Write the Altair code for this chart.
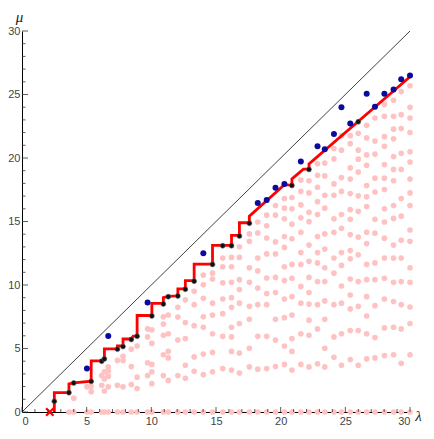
import altair as alt
import pandas as pd

W, H = 388, 381

# ---- data ----
pink_x = [3.63, 4.0, 5.02, 5.35, 6.16, 6.37, 6.67, 7.38, 7.81, 8.45, 8.9, 9.71, 10.04,
          10.93, 11.31, 12.05, 12.63, 13.31, 14.02, 14.73, 15.52, 16.2, 16.81, 17.58,
          18.23, 18.92, 19.6, 20.29, 20.87, 21.56, 22.19, 22.85, 23.41, 24.12, 24.7,
          25.38, 26.0, 26.65, 27.29, 28.02, 28.73, 29.32, 30.0]
pink_mu = [
    [0],
    [1.09, 0],
    [1.98, 0],
    [2.03, 1.6, 0],
    [2.87, 2.1, 0],
    [3.17, 2.6, 1.65, 0],
    [3.55, 3.25, 2.82, 1.98, 0],
    [4.06, 2.1, 0],
    [4.39, 4.06, 1.98, 0],
    [4.95, 3.58, 2.16, 0],
    [5.2, 2.74, 1.85, 0],
    [6.54, 5.91, 3.88, 2.87, 0],
    [6.47, 5.40, 3.75, 3.17, 2.23, 0],
    [7.5, 6.92, 6.04, 4.51, 2.87, 0],
    [7.63, 6.16, 4.77, 4.26, 2.49, 0],
    [8.24, 7.48, 5.66, 2.87, 0],
    [8.83, 7.05, 5.78, 3.68, 2.66, 0],
    [9.51, 8.45, 6.8, 4.34, 3.2, 0],
    [10.78, 10.02, 8.95, 7.5, 6.67, 4.56, 2.94, 0],
    [10.93, 10.47, 8.57, 7.63, 6.16, 4.69, 3.17, 0],
    [12.12, 11.44, 10.17, 8.9, 7.74, 5.96, 3.42, 0],
    [12.17, 11.44, 10.22, 9.0, 8.24, 6.67, 5.91, 4.77, 3.3, 0],
    [13.01, 12.17, 10.42, 9.64, 8.57, 6.97, 4.64, 3.07, 0],
    [14.02, 13.44, 11.36, 10.22, 8.32, 7.3, 5.02, 3.55, 0],
    [14.96, 14.1, 12.12, 11.11, 9.76, 8.45, 5.96, 3.37, 0],
    [15.5, 14.66, 13.7, 12.45, 10.55, 9.33, 8.45, 5.96, 3.42, 0],
    [16.26, 15.5, 13.39, 12.45, 10.6, 9.41, 7.3, 5.66, 3.58, 0],
    [16.81, 16.05, 15.22, 13.82, 12.96, 11.44, 10.35, 8.9, 7.43, 5.2, 3.75, 0],
    [16.89, 16.0, 14.79, 13.64, 11.62, 10.53, 9.08, 7.63, 5.78, 4.77, 3.3, 0],
    [18.26, 17.37, 16.31, 15.29, 14.15, 12.55, 11.62, 9.89, 8.57, 6.16, 3.75, 0],
    [18.21, 17.25, 15.72, 14.99, 13.14, 11.87, 10.6, 9.41, 8.5, 7.23, 6.04, 3.55, 0],
    [19.55, 18.64, 17.7, 16.56, 15.55, 13.82, 12.55, 11.74, 10.27, 8.45, 6.54, 3.8, 0],
    [19.6, 18.59, 17.07, 16.05, 14.02, 12.83, 11.36, 10.27, 8.75, 7.3, 5.02, 3.55, 0],
    [20.75, 19.93, 17.96, 17.07, 15.22, 14.15, 12.12, 10.93, 8.45, 5.91, 4.31, 0],
    [21.76, 20.62, 18.46, 17.37, 15.55, 14.46, 12.55, 11.54, 9.92, 8.57, 6.16, 3.68, 0],
    [21.76, 21.13, 19.22, 18.34, 17.2, 15.93, 15.17, 13.97, 12.71, 12.07, 10.47, 9.21, 8.12, 6.42, 4.13, 0],
    [21.94, 20.62, 19.91, 18.89, 17.02, 15.8, 13.77, 12.38, 10.27, 8.32, 6.42, 3.68, 0],
    [22.57, 21.58, 20.24, 19.43, 17.83, 16.94, 16.18, 14.15, 13.26, 11.62, 10.42, 9.08, 7.56, 6.16, 4.18, 0],
    [23.15, 21.33, 20.31, 18.41, 17.32, 15.17, 14.08, 11.74, 10.42, 8.37, 5.86, 4.26, 0],
    [24.22, 23.28, 21.68, 20.92, 19.48, 18.41, 17.52, 16.0, 14.96, 13.69, 12.12, 10.53, 8.9, 6.62, 4.44, 0],
    [24.55, 23.28, 22.27, 21.51, 20.11, 19.1, 18.21, 16.26, 15.24, 13.14, 12.12, 10.22, 8.7, 6.67, 4.51, 0],
    [25.23, 23.41, 22.32, 20.37, 19.1, 16.81, 15.42, 13.52, 12.12, 10.27, 8.45, 6.54, 3.83, 0],
    [25.69, 23.99, 23.15, 22.01, 20.49, 19.68, 18.34, 17.25, 16.26, 14.33, 13.44, 11.36, 10.22, 8.27, 6.97, 4.51, 0],
]

black_x = [2.5, 3.63, 4.0, 5.35, 6.16, 6.37, 7.38, 7.81, 8.45, 8.9, 10.04, 10.93, 11.31,
           12.05, 12.63, 13.31, 14.73, 15.52, 16.2, 16.81, 17.58, 20.87, 22.19, 26.0]
black_mu = [0.84, 1.52, 2.28, 2.41, 4.0, 4.18, 4.95, 5.15, 5.71, 5.96, 7.56, 8.5, 9.08,
            9.13, 9.66, 10.3, 11.62, 13.09, 13.09, 13.85, 14.86, 17.83, 19.1, 22.85]

blue_x = [5.02, 6.67, 9.71, 14.02, 18.23, 18.92, 19.6, 20.29, 21.56, 22.85, 23.41, 24.12,
          24.7, 25.38, 26.65, 27.29, 28.02, 28.73, 29.32, 30.0]
blue_mu = [3.42, 5.98, 8.62, 12.5, 16.46, 16.69, 17.65, 17.96, 19.73, 20.92, 20.69, 21.89,
           23.99, 22.72, 25.06, 24.04, 25.06, 25.39, 26.2, 26.5]

line_x = [2.5, 2.5, 3.63, 3.63, 4.0, 5.35, 5.35, 6.16, 6.37, 6.37, 7.38, 7.38, 7.81,
          7.81, 8.45, 8.6, 8.9, 8.9, 10.04, 10.04, 10.93, 10.93, 11.31, 12.05, 12.05,
          12.63, 12.63, 13.31, 13.31, 14.73, 14.73, 16.2, 16.2, 16.81, 16.81, 17.58,
          17.58, 20.29, 20.87, 20.87, 21.76, 22.19, 22.19, 30.0]
line_mu = [0, 1.52, 1.52, 2.22, 2.3, 2.42, 4.02, 4.02, 4.2, 4.97, 4.97, 5.2, 5.2,
           5.75, 5.75, 5.98, 5.98, 7.6, 7.6, 8.55, 8.55, 9.0, 9.1, 9.15, 9.7,
           9.7, 10.35, 10.35, 11.65, 11.65, 13.12, 13.12, 13.9, 13.9, 14.9, 14.9,
           15.42, 17.9, 17.85, 18.35, 19.12, 19.12, 19.53, 26.4]

cross_x = [2.15]
cross_mu = [0.0]

diag_x = [0, 30]
diag_mu = [0, 30]

major_ticks = [0, 5, 10, 15, 20, 25, 30]
minor_ticks = [i for i in range(31) if i % 5 != 0]

# ---- tables ----
pink_df = pd.DataFrame([{"x": x, "mu": m} for x, ms in zip(pink_x, pink_mu) for m in ms])
black_df = pd.DataFrame({"x": black_x, "mu": black_mu})
blue_df = pd.DataFrame({"x": blue_x, "mu": blue_mu})
line_df = pd.DataFrame({"x": line_x, "mu": line_mu, "i": list(range(len(line_x)))})
cross_df = pd.DataFrame({"x": cross_x, "mu": cross_mu})
diag_df = pd.DataFrame({"x": diag_x, "mu": diag_mu})
xmaj_df = pd.DataFrame({"x": major_ticks})
xmin_df = pd.DataFrame({"x": minor_ticks})
ymaj_df = pd.DataFrame({"mu": major_ticks})
ymin_df = pd.DataFrame({"mu": minor_ticks})

xs = alt.Scale(domain=[0, 30], nice=False, zero=False)
ys = alt.Scale(domain=[0, 30], nice=False, zero=False)

common = dict(ticks=False, grid=False, domainColor="black", domainWidth=1,
              labelFont="Liberation Sans", labelFontSize=11, labelColor="#444",
              titleFont="Liberation Serif", titleFontStyle="italic", titleFontSize=15,
              titleFontWeight="normal", titleColor="#222", format="d", values=major_ticks)
xaxis = alt.Axis(title="λ", labelPadding=3, titleX=W + 8, titleY=3,
                 titleAlign="center", titleBaseline="middle", **common)
yaxis = alt.Axis(title="μ", labelPadding=2, titleAngle=0, titleX=-3, titleY=-10,
                 titleAlign="center", titleBaseline="alphabetic", **common)

X = alt.X("x:Q", scale=xs, axis=xaxis)
Y = alt.Y("mu:Q", scale=ys, axis=yaxis)

pink = alt.Chart(pink_df).mark_circle(size=32, color="#FFC2C2", opacity=1, clip=False).encode(x=X, y=Y)
diag = alt.Chart(diag_df).mark_line(color="#111", strokeWidth=0.8).encode(x=X, y=Y)
red = alt.Chart(line_df).mark_line(color="#FF0000", strokeWidth=2.8, strokeJoin="miter").encode(
    x=X, y=Y, order="i:Q")
black = alt.Chart(black_df).mark_circle(size=24, color="#111", opacity=1,
                                        stroke="#555", strokeWidth=0.6).encode(x=X, y=Y)
blue = alt.Chart(blue_df).mark_circle(size=36, color="#0A0A9E", opacity=1, clip=False).encode(x=X, y=Y)
cross = alt.Chart(cross_df).mark_point(shape="M-1,-1L1,1M-1,1L1,-1", size=55, filled=False,
                                       color="#FF0000", strokeWidth=2.2, opacity=1).encode(x=X, y=Y)

xmaj = alt.Chart(xmaj_df).mark_rule(color="#333", strokeWidth=0.8).encode(
    x=X, y=alt.value(H), y2=alt.value(H - 5))
xmin = alt.Chart(xmin_df).mark_rule(color="#333", strokeWidth=0.8).encode(
    x=X, y=alt.value(H), y2=alt.value(H - 3))
ymaj = alt.Chart(ymaj_df).mark_rule(color="#333", strokeWidth=0.8).encode(
    y=Y, x=alt.value(0), x2=alt.value(6))
ymin = alt.Chart(ymin_df).mark_rule(color="#333", strokeWidth=0.8).encode(
    y=Y, x=alt.value(0), x2=alt.value(3.5))

chart = alt.layer(pink, diag, red, black, blue, cross, xmaj, xmin, ymaj, ymin).properties(
    width=W, height=H,
    autosize=alt.AutoSizeParams(type="none"),
    padding={"left": 14, "top": 23, "right": 16, "bottom": 14},
    background="white",
).configure_view(stroke=None)

chart.save("out.html", embed_options={"renderer": "svg", "actions": False})
